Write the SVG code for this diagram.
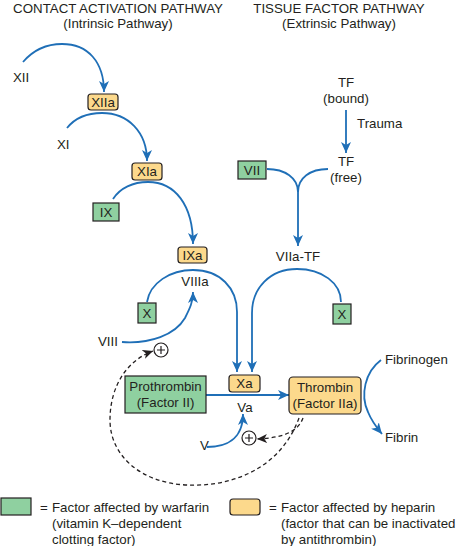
<svg xmlns="http://www.w3.org/2000/svg" width="456" height="546" viewBox="0 0 456 546">
<style>
text{font-family:"Liberation Sans",Arial,sans-serif;font-size:13.3px;fill:#231f20}
.c{text-anchor:middle}
.g{fill:#8fd0a0;stroke:#231f20;stroke-width:1.2}
.y{fill:#fcd98c;stroke:#231f20;stroke-width:1.2}
.b{fill:none;stroke:#1f6fb7;stroke-width:1.8}
.d{fill:none;stroke:#231f20;stroke-width:1.3;stroke-dasharray:4,3}
.p{fill:#fff;stroke:#231f20;stroke-width:1.2}
</style>
<defs>
<marker id="ab" markerUnits="userSpaceOnUse" markerWidth="12" markerHeight="12" viewBox="0 0 12 12" refX="11" refY="6" orient="auto">
<path d="M0,1 L11,6 L0,11 L3,6 Z" fill="#1f6fb7"/>
</marker>
<marker id="ak" markerUnits="userSpaceOnUse" markerWidth="11" markerHeight="11" viewBox="0 0 12 12" refX="11" refY="6" orient="auto">
<path d="M0,1 L11,6 L0,11 L3,6 Z" fill="#231f20"/>
</marker>
</defs>

<g id="titles">
<text class="c" x="118" y="13">CONTACT ACTIVATION PATHWAY</text>
<text class="c" x="118" y="28">(Intrinsic Pathway)</text>
<text class="c" x="339" y="13">TISSUE FACTOR PATHWAY</text>
<text class="c" x="339" y="28">(Extrinsic Pathway)</text>
</g>

<g id="connectors">
<path class="b" d="M23,62 C35,48 50,44 62,44 C88,44 104,62 104,92" marker-end="url(#ab)"/>
<path class="b" d="M67,128 C75,118 88,113 102,113 C128,113 147,132 147,161" marker-end="url(#ab)"/>
<path class="b" d="M113,199 C120,188 133,182 148,182 C175,182 193,205 193,244" marker-end="url(#ab)"/>
<path class="b" d="M147,302 C150,283 170,270 193,270 C220,270 237,288 237,312 L237,372" marker-end="url(#ab)"/>
<path class="b" d="M341,302 C341,283 322,269 297,269 C270,269 252,288 252,313 L252,372" marker-end="url(#ab)"/>
<path class="b" d="M122,342 C150,344 175,335 185,318 C190,308 193,302 193,292" marker-end="url(#ab)"/>
<path class="b" d="M346,110 L346,153" marker-end="url(#ab)"/>
<path class="b" d="M267,169 C285,169 298,178 298,192"/>
<path class="b" d="M328,169 C310,169 298,178 298,192 L298,246" marker-end="url(#ab)"/>
<path class="b" d="M206,395 L289,395" marker-end="url(#ab)"/>
<path class="b" d="M207,447 C225,447 243,440 243,414" marker-end="url(#ab)"/>
<path class="b" d="M381,360 C365,372 360,395 368,412 C372,422 377,428 382,434" marker-end="url(#ab)"/>
<path class="d" d="M303,418 C298,432 282,438 257,439" marker-end="url(#ak)"/>
<path class="d" d="M299,418 C280,470 230,487 187,485 C140,483 110,455 110,420 C110,385 128,360 153,351" marker-end="url(#ak)"/>
</g>

<g id="plus1"><circle class="p" cx="161" cy="350" r="7"/><path d="M157,350 H165 M161,346 V354" stroke="#231f20" stroke-width="1.2"/></g>
<g id="plus2"><circle class="p" cx="249" cy="438" r="7"/><path d="M245,438 H253 M249,434 V442" stroke="#231f20" stroke-width="1.2"/></g>

<g id="XII"><text x="13" y="82">XII</text></g>
<g id="XIIa"><rect class="y" x="88" y="94" width="30" height="16" rx="3"/><text class="c" x="103" y="107">XIIa</text></g>
<g id="XI"><text x="57" y="149">XI</text></g>
<g id="XIa"><rect class="y" x="132" y="163" width="30" height="17" rx="3"/><text class="c" x="147" y="176">XIa</text></g>
<g id="IX"><rect class="g" x="93" y="203" width="26" height="18"/><text class="c" x="106" y="217">IX</text></g>
<g id="IXa"><rect class="y" x="178" y="247" width="29" height="16" rx="3"/><text class="c" x="192.5" y="260">IXa</text></g>
<g id="VIIIa"><text class="c" x="195" y="286">VIIIa</text></g>
<g id="Xleft"><rect class="g" x="138" y="303" width="18" height="20"/><text class="c" x="147" y="318">X</text></g>
<g id="VIII"><text x="98" y="346">VIII</text></g>
<g id="TFbound"><text class="c" x="346" y="87">TF</text><text class="c" x="346" y="103">(bound)</text></g>
<g id="trauma"><text x="357" y="128">Trauma</text></g>
<g id="TFfree"><text class="c" x="346" y="166">TF</text><text class="c" x="346" y="182">(free)</text></g>
<g id="VII"><rect class="g" x="238" y="161" width="28" height="18"/><text class="c" x="252" y="175">VII</text></g>
<g id="VIIaTF"><text class="c" x="298" y="261">VIIa-TF</text></g>
<g id="Xright"><rect class="g" x="333" y="304" width="18" height="20"/><text class="c" x="342" y="319">X</text></g>
<g id="Xa"><rect class="y" x="229" y="375" width="31" height="17" rx="3"/><text class="c" x="244.5" y="388">Xa</text></g>
<g id="Va"><text class="c" x="245" y="412">Va</text></g>
<g id="V"><text x="200" y="450">V</text></g>
<g id="prothrombin"><rect class="g" x="125" y="376" width="81" height="37"/><text class="c" x="165.5" y="391">Prothrombin</text><text class="c" x="165.5" y="407">(Factor II)</text></g>
<g id="thrombin"><rect class="y" x="289" y="377" width="72" height="37" rx="4"/><text class="c" x="325" y="392">Thrombin</text><text class="c" x="325" y="408">(Factor IIa)</text></g>
<g id="fibrinogen"><text x="385" y="364">Fibrinogen</text></g>
<g id="fibrin"><text x="385" y="442">Fibrin</text></g>

<g id="legend-green"><rect class="g" x="1" y="498" width="30" height="17"/><text x="40" y="512">=</text><text x="52" y="512">Factor affected by warfarin</text><text x="52" y="528">(vitamin K–dependent</text><text x="52" y="544">clotting factor)</text></g>
<g id="legend-yellow"><rect class="y" x="230" y="499" width="30" height="16" rx="3"/><text x="269" y="512">=</text><text x="281" y="512">Factor affected by heparin</text><text x="281" y="528">(factor that can be inactivated</text><text x="281" y="544">by antithrombin)</text></g>
</svg>
